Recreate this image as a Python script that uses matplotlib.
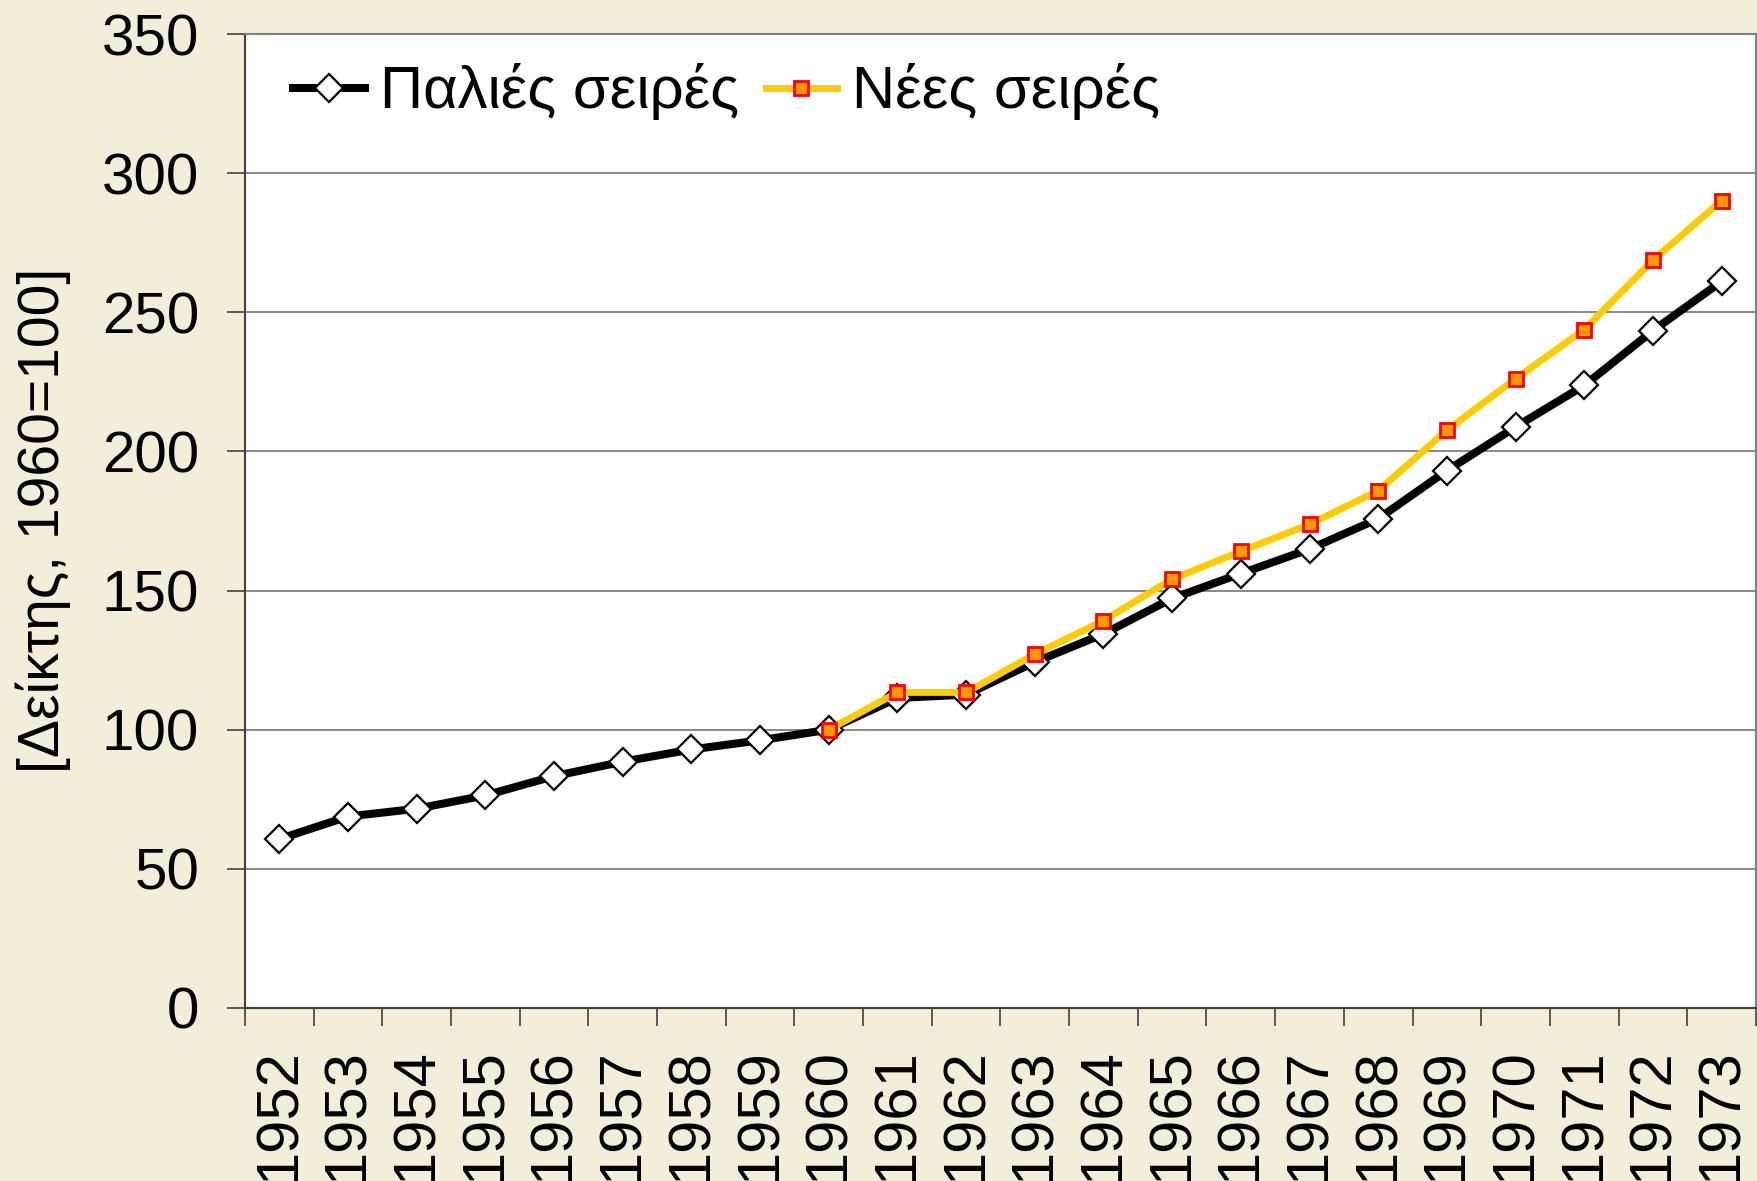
import matplotlib
matplotlib.use("Agg")
import matplotlib.pyplot as plt
import numpy as np

years = [str(y) for y in range(1952, 1974)]
old_series = [60.7, 68.8, 71.6, 76.4, 83.3, 88.5, 92.9, 96.2, 100.0, 111.4, 112.6,
              124.3, 134.4, 147.2, 156.1, 164.9, 175.8, 193.1, 208.8, 223.7, 243.4, 261.1]
new_years = [str(y) for y in range(1960, 1974)]
new_series = [100.0, 113.4, 113.4, 127.1, 139.2, 154.1, 164.1, 173.8, 185.9, 207.6,
              226.1, 243.8, 268.7, 290.1]
y_ticks = [0, 50, 100, 150, 200, 250, 300, 350]

plt.rcParams['font.family'] = ['Liberation Sans', 'DejaVu Sans']
bg = '#F2EEDA'

fig = plt.figure(figsize=(17.57, 11.81), dpi=100, facecolor=bg)
ax = fig.add_axes([0.1394, 0.1465, 0.8600, 0.8247])
ax.set_facecolor('white')

x_old = np.arange(len(years))
x_new = np.array([years.index(y) for y in new_years])

ax.plot(x_old, old_series, color='black', lw=5.8, marker='D', markersize=14,
        markerfacecolor='white', markeredgecolor='black', markeredgewidth=1.6,
        label='Παλιές σειρές', zorder=3)
ax.plot(x_new, new_series, color='#FFCC00', lw=5, marker='s', markersize=10,
        markerfacecolor='#FF9900', markeredgecolor='#FF0000', markeredgewidth=2,
        label='Νέες σειρές', zorder=4)

ax.set_xlim(-0.5, len(years) - 0.5)
ax.set_ylim(0, 350)
ax.set_yticks(y_ticks)
ax.set_yticklabels([str(v) for v in y_ticks], fontsize=42)
ax.tick_params(axis='y', length=13, width=1.2, color='#404040', pad=20)

ax.set_xticks(x_old)
ax.set_xticklabels(years, rotation=90, fontsize=43, va='top')
ax.tick_params(axis='x', which='major', length=0, pad=29)
ax.set_xticks(np.arange(-0.5, len(years)), minor=True)
ax.tick_params(axis='x', which='minor', length=13, width=1.2, color='#404040')

ax.yaxis.grid(True, color='#808080', lw=1.3)
ax.set_axisbelow(True)
for s in ['left', 'bottom']:
    ax.spines[s].set_color('#404040')
    ax.spines[s].set_linewidth(1.5)
for s in ['top', 'right']:
    ax.spines[s].set_color('#808080')
    ax.spines[s].set_linewidth(1.5)

fig.text(43 / 1757, 0.5597, '[Δείκτης, 1960=100]', rotation=90, fontsize=41,
         ha='center', va='center')

ax.legend(loc='center left', bbox_to_anchor=(293 / 1757, 1 - 92 / 1181),
          bbox_transform=fig.transFigure, ncol=2, frameon=False,
          prop={'size': 43},
          handlelength=1.2, handletextpad=0.25, columnspacing=0.45,
          borderpad=0, borderaxespad=0)

fig.savefig('out.png', dpi=100, facecolor=bg)
